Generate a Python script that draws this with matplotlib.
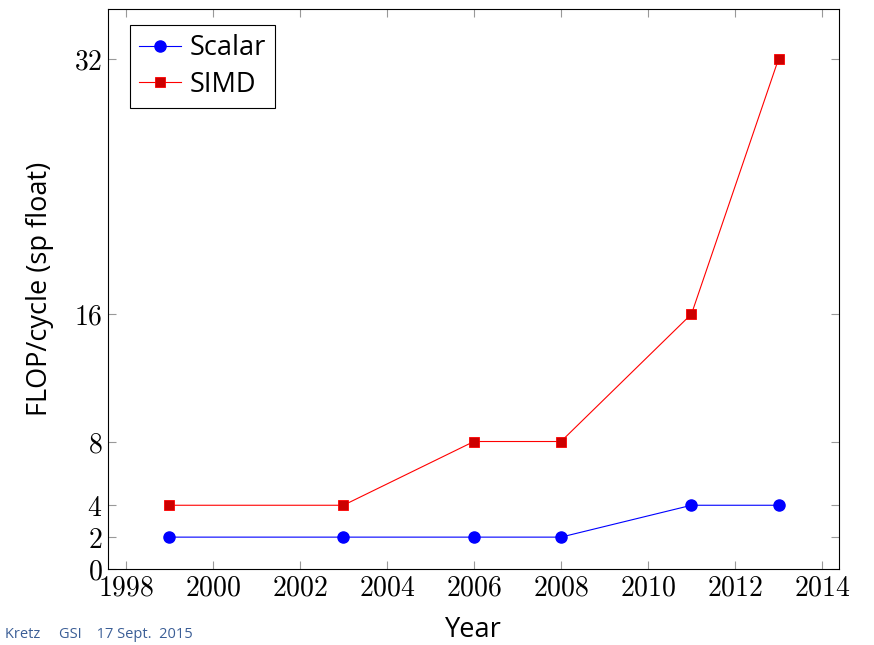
import matplotlib
matplotlib.use("Agg")
import matplotlib.pyplot as plt

years = [1999, 2003, 2006, 2008, 2011, 2013]
scalar = [2, 2, 2, 2, 4, 4]
simd = [4, 4, 8, 8, 16, 32]
xticks = [1998, 2000, 2002, 2004, 2006, 2008, 2010, 2012, 2014]
yticks = [0, 2, 4, 8, 16, 32]

plt.rcParams['mathtext.fontset'] = 'cm'
plt.rcParams['font.family'] = ['Open Sans', 'DejaVu Sans']

fig = plt.figure(figsize=(8.74, 6.45), dpi=100)
ax = fig.add_axes([108/874, 1-569/645, (839-108)/874, (569-9)/645])

ax.plot(years, scalar, color='blue', lw=0.8, marker='o', markersize=8,
        markerfacecolor='blue', markeredgecolor='blue', label='Scalar')
ax.plot(years, simd, color='red', lw=0.8, marker='s', markersize=7.5,
        markerfacecolor='#cc0000', markeredgecolor='red', markeredgewidth=0.6, label='SIMD')

ax.set_xlim(1997.59, 2014.39)
ax.set_ylim(0, 35.14)
ax.set_xticks(xticks)
ax.set_xticklabels([f'${v}$' for v in xticks])
ax.set_yticks(yticks)
ax.set_yticklabels([f'${v}$' for v in yticks])
ax.tick_params(direction='in', length=6, width=0.8, color='#999999',
               labelsize=20, top=True, right=True, pad=4)
for s in ax.spines.values():
    s.set_linewidth(0.8)
    s.set_color('black')

ax.set_xlabel('Year', fontsize=19.5, labelpad=10)
ax.set_ylabel('FLOP/cycle (sp float)', fontsize=19.5, labelpad=14)

leg = ax.legend(loc='upper left', bbox_to_anchor=(0.030, 0.9714), fontsize=19.5,
                frameon=True, fancybox=False, edgecolor='black', framealpha=1,
                borderpad=0.35, handlelength=1.55, handletextpad=0.3,
                labelspacing=0.3, borderaxespad=0)
leg.get_frame().set_linewidth(0.8)

fig.text(5/874, 1-635/645, 'Kretz     GSI    17 Sept.  2015', fontsize=10.5,
         color='#3b5e96', va='center', ha='left')

fig.savefig('out.png', dpi=100)
